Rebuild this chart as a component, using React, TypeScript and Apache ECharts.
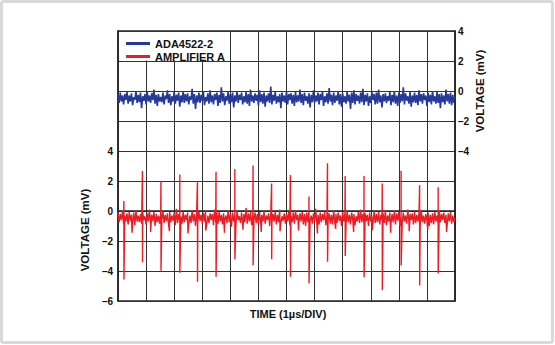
import React, { useEffect, useRef } from "react";
import * as echarts from "echarts";

// time axis: 12 divisions of 1 µs, noise sampled every 0.04 div
const timeDivisions = 12;
const sampleStep = 0.04;

const seriesNames = ["ADA4522-2", "AMPLIFIER A"];

// ADA4522-2 noise (mV, right axis)
const blueNoise = [
  -0.2,-0.8,-0.1,-0.7,-0.3,-0.9,-0.2,-0.6,-0.05,-0.85,
  -0.3,-0.7,-0.15,-0.95,-0.4,-0.6,0.0,-0.8,-0.25,-0.75,
  -0.1,-1.15,-0.35,-0.65,-0.2,-0.9,-0.05,-0.7,-0.3,-0.8,
  -0.15,-0.6,0.1,-0.85,-0.25,-1.0,-0.2,-0.7,-0.4,-0.75,
  -0.1,-0.9,-0.3,-0.55,0.05,-0.8,-0.2,-0.95,-0.35,-0.7,
  -0.05,-0.85,-0.25,-0.65,-0.1,-1.05,-0.3,-0.75,0.0,-0.8,
  -0.2,-0.7,-0.15,-0.9,-0.35,-0.6,0.15,-0.85,-0.2,-1.2,
  -0.3,-0.75,-0.1,-0.8,-0.25,-0.65,-0.05,-0.95,-0.4,-0.7,
  -0.15,-0.85,0.05,-0.75,-0.3,-0.9,-0.2,-0.6,-0.1,-1.0,
  -0.25,-0.8,0.25,-0.7,-0.15,-0.95,-0.35,-0.65,-0.05,-0.85,
  -0.2,-0.75,-0.1,-1.1,-0.3,-0.7,0.0,-0.8,-0.25,-0.6,
  -0.1,-0.9,-0.35,-0.75,-0.05,-0.85,-0.2,-1.0,0.1,-0.7,
  -0.3,-0.8,-0.15,-0.65,-0.25,-0.95,0.05,-0.75,-0.2,-0.85,
  -0.1,-1.05,-0.3,-0.7,-0.15,-0.8,0.3,-0.9,-0.25,-0.65,
  -0.05,-0.85,-0.35,-0.75,-0.2,-1.15,-0.1,-0.7,-0.3,-0.8,
  0.0,-0.9,-0.2,-0.6,-0.15,-0.85,-0.25,-1.0,-0.05,-0.75,
  -0.3,-0.7,0.1,-0.8,-0.2,-0.95,-0.1,-0.65,-0.35,-0.85,
  -0.15,-1.1,-0.25,-0.75,0.05,-0.8,-0.3,-0.7,-0.1,-0.9,
  -0.2,-0.6,-0.05,-1.0,-0.35,-0.75,-0.15,-0.85,0.2,-0.7,
  -0.25,-0.95,-0.1,-0.8,-0.3,-0.65,0.0,-0.9,-0.2,-1.05,
  -0.15,-0.75,-0.35,-0.85,-0.05,-0.7,-0.25,-1.2,-0.1,-0.8,
  0.05,-0.9,-0.2,-0.65,-0.3,-0.85,-0.1,-0.75,0.15,-0.95,
  -0.25,-0.7,-0.15,-1.0,-0.35,-0.8,-0.05,-0.6,-0.2,-0.9,
  -0.1,-0.85,0.1,-0.75,-0.3,-1.1,-0.2,-0.7,-0.15,-0.8,
  -0.35,-0.65,-0.05,-0.95,-0.25,-0.75,0.0,-0.85,-0.3,-1.0,
  -0.1,-0.8,-0.2,-0.7,0.25,-0.9,-0.15,-0.65,-0.35,-0.85,
  -0.05,-1.05,-0.3,-0.75,-0.1,-0.8,-0.25,-0.95,0.05,-0.7,
  -0.2,-0.85,-0.15,-0.6,-0.3,-1.0,-0.1,-0.75,-0.25,-0.9,
  0.0,-0.7,-0.35,-0.85,-0.05,-0.8,-0.2,-1.15,-0.15,-0.75,
  -0.3,-0.9,0.1,-0.7,-0.2,-0.85,-0.1,-0.95,-0.25,-0.8,
  -0.4,
];

// AMPLIFIER A base noise (mV, left axis)
const redNoise = [
  -0.1,-0.75,-0.2,-0.6,0.0,-0.85,-0.3,-0.7,-0.15,-0.9,
  -0.05,-0.65,-0.25,-0.8,-0.1,-0.95,0.05,-0.7,-0.3,-0.75,
  -0.2,-0.85,-0.1,-0.6,-0.35,-0.9,-0.15,-0.7,0.1,-0.8,
  -0.25,-0.65,-0.05,-1.0,-0.2,-0.75,-0.3,-0.85,-0.1,-0.6,
  0.0,-0.8,-0.25,-0.7,-0.15,-0.9,-0.05,-0.75,-0.3,-0.65,
  -0.1,-0.95,0.15,-0.8,-0.2,-0.7,-0.35,-0.85,-0.05,-0.75,
  -0.25,-0.6,-0.1,-0.9,-0.3,-0.8,0.05,-0.7,-0.2,-1.0,
  -0.15,-0.75,-0.05,-0.65,-0.25,-0.85,-0.1,-0.7,0.0,-0.9,
  -0.3,-0.8,-0.15,-0.6,-0.2,-0.95,0.1,-0.75,-0.1,-0.85,
  -0.05,-0.7,-0.25,-0.9,-0.15,-0.65,-0.3,-0.8,0.05,-0.75,
  -0.2,-1.05,-0.1,-0.7,-0.25,-0.85,0.0,-0.6,-0.35,-0.8,
  -0.1,-0.9,-0.2,-0.75,0.2,-0.85,-0.15,-0.7,-0.05,-0.95,
  -0.3,-0.65,-0.1,-0.8,-0.2,-0.9,-0.05,-0.75,-0.25,-0.7,
  0.0,-0.85,-0.3,-0.6,-0.15,-1.0,-0.1,-0.8,-0.2,-0.7,
  -0.05,-0.9,-0.25,-0.75,0.1,-0.8,-0.35,-0.65,-0.15,-0.85,
  -0.2,-0.7,-0.05,-0.95,-0.3,-0.75,-0.1,-0.85,0.05,-0.6,
  -0.25,-0.8,-0.15,-0.7,-0.05,-0.9,-0.2,-1.0,-0.1,-0.75,
  0.0,-0.65,-0.3,-0.85,-0.15,-0.7,0.15,-0.8,-0.25,-0.9,
  -0.1,-0.75,-0.2,-0.6,-0.05,-0.95,-0.3,-0.7,-0.15,-0.85,
  -0.25,-0.9,0.05,-0.75,-0.2,-0.8,-0.1,-0.65,-0.3,-1.0,
  -0.05,-0.7,-0.15,-0.85,0.0,-0.75,-0.25,-0.9,-0.1,-0.6,
  -0.2,-0.95,-0.35,-0.7,-0.05,-0.8,0.1,-0.75,-0.2,-0.85,
  -0.15,-0.65,-0.25,-1.0,-0.1,-0.7,-0.3,-0.85,0.0,-0.8,
  -0.2,-0.75,-0.05,-0.9,-0.25,-0.6,-0.15,-0.8,0.05,-0.95,
  -0.3,-0.7,-0.1,-0.85,-0.2,-0.75,0.0,-0.9,-0.15,-0.65,
  -0.05,-1.0,-0.25,-0.8,-0.1,-0.7,-0.3,-0.85,0.1,-0.75,
  -0.2,-0.6,-0.15,-0.9,-0.05,-0.8,-0.25,-0.7,-0.1,-0.95,
  0.05,-0.75,-0.3,-0.85,-0.2,-0.65,-0.1,-1.0,-0.25,-0.8,
  -0.15,-0.9,-0.05,-0.7,-0.3,-0.85,0.0,-0.75,-0.2,-0.6,
  -0.1,-0.8,-0.25,-0.95,-0.15,-0.7,-0.05,-0.85,-0.3,-0.75,
  -0.45,
];

// AMPLIFIER A periodic spikes (time in µs, peak / trough in mV)
const spikeTimes = [0.21,0.87,1.53,2.2,2.83,3.49,4.16,4.81,5.47,6.14,6.8,7.46,8.09,8.76,9.41,10.08,10.74,11.4];
const spikeHigh = [0.67,2.67,1.96,2.44,2.0,2.62,2.8,3.04,1.84,2.4,0.96,3.18,2.33,2.33,1.84,2.69,1.71,1.58];
const spikeLow = [-4.56,-3.42,-3.98,-4.11,-4.71,-4.38,-3.22,-3.62,-3.22,-4.38,-4.82,-3.38,-3.0,-4.42,-5.27,-3.64,-4.96,-4.16];

// smaller dips following each spike
const dipTimes = [0.5,1.16,1.83,2.49,3.12,3.79,4.45,5.1,5.77,6.43,7.1,7.75,8.39,9.05,9.71,10.37,11.03,11.7];
const dipLow = [-1.45,-1.4,-1.35,-1.5,-1.3,-1.45,-1.25,-1.4,-1.35,-1.3,-1.5,-1.2,-1.4,-1.3,-1.45,-1.35,-1.25,-1.4];

// axis ticks
const leftAxisMin = -6;
const leftAxisMax = 12;
const rightAxisMin = -14;
const rightAxisMax = 4;
const voltStep = 2;
const leftLabelMax = 4;
const rightLabelMin = -4;

const fmt = (v: number) => (v < 0 ? "\u2013" + Math.abs(v) : String(v));

export default function App() {
  const ref = useRef<HTMLDivElement>(null);

  useEffect(() => {
    if (!ref.current) return;
    const chart = echarts.init(ref.current, null, { renderer: "svg" });

    const blueData = blueNoise.map((v, i) => [i * sampleStep, v]);
    const redPts: number[][] = redNoise.map((v, i) => [i * sampleStep, v]);
    spikeTimes.forEach((t, k) => {
      redPts.push([t, spikeHigh[k]]);
      redPts.push([t + 0.002, spikeLow[k]]);
    });
    dipTimes.forEach((t, k) => redPts.push([t, dipLow[k]]));
    redPts.sort((a, b) => a[0] - b[0]);

    const font = '"Liberation Sans", Arial, sans-serif';

    chart.setOption({
      animation: false,
      backgroundColor: "#ffffff",
      grid: {
        left: 118,
        right: 100,
        top: 31,
        bottom: 44,
        show: true,
        borderColor: "#262626",
        borderWidth: 1.5,
        containLabel: false,
      },
      legend: {
        data: seriesNames,
        orient: "vertical",
        left: 121,
        top: 33,
        itemWidth: 24,
        itemHeight: 3,
        itemGap: 2,
        icon: "rect",
        z: 10,
        textStyle: {
          fontFamily: font,
          fontWeight: "bold",
          fontSize: 11,
          lineHeight: 11,
          color: "#111",
        },
      },
      xAxis: {
        type: "value",
        min: 0,
        max: timeDivisions,
        interval: 1,
        axisLabel: { show: false },
        axisTick: { show: false },
        axisLine: { show: true, lineStyle: { color: "#262626", width: 1.5 } },
        splitLine: { show: true, lineStyle: { color: "#333", width: 1 } },
      },
      yAxis: [
        {
          type: "value",
          position: "left",
          min: leftAxisMin,
          max: leftAxisMax,
          interval: voltStep,
          axisTick: { show: false },
          axisLine: { show: true, lineStyle: { color: "#262626", width: 1.5 } },
          splitLine: { show: true, lineStyle: { color: "#333", width: 1 } },
          axisLabel: {
            margin: 5,
            color: "#111",
            fontFamily: font,
            fontWeight: "bold",
            fontSize: 10,
            formatter: (v: number) => (v <= leftLabelMax ? fmt(v) : ""),
          },
        },
        {
          type: "value",
          position: "right",
          min: rightAxisMin,
          max: rightAxisMax,
          interval: voltStep,
          axisTick: { show: false },
          axisLine: { show: true, lineStyle: { color: "#262626", width: 1.5 } },
          splitLine: { show: false },
          axisLabel: {
            margin: 3,
            color: "#111",
            fontFamily: font,
            fontWeight: "bold",
            fontSize: 10,
            formatter: (v: number) => (v >= rightLabelMin ? fmt(v) : ""),
          },
        },
      ],
      graphic: [
        {
          type: "rect",
          z: -10,
          silent: true,
          shape: { x: 1.5, y: 1.5, width: 551, height: 341, r: 2 },
          style: { fill: "#fff", stroke: "#d9d9d9", lineWidth: 3 },
        },
        {
          type: "rect",
          z: 5,
          silent: true,
          shape: { x: 119, y: 32, width: 110.5, height: 28.5 },
          style: { fill: "#fff" },
        },
        {
          type: "text",
          x: 85,
          y: 230,
          rotation: Math.PI / 2,
          style: {
            text: "VOLTAGE (mV)",
            font: 'bold 11.5px "Liberation Sans", Arial, sans-serif',
            fill: "#111",
            align: "center",
            verticalAlign: "middle",
          },
        },
        {
          type: "text",
          x: 480,
          y: 91,
          rotation: Math.PI / 2,
          style: {
            text: "VOLTAGE (mV)",
            font: 'bold 11.5px "Liberation Sans", Arial, sans-serif',
            fill: "#111",
            align: "center",
            verticalAlign: "middle",
          },
        },
        {
          type: "text",
          x: 288,
          y: 314,
          style: {
            text: "TIME (1\u00b5s/DIV)",
            font: 'bold 11px "Liberation Sans", Arial, sans-serif',
            fill: "#111",
            align: "center",
            verticalAlign: "middle",
          },
        },
      ],
      series: [
        {
          name: seriesNames[0],
          type: "line",
          yAxisIndex: 1,
          data: blueData,
          showSymbol: false,
          symbol: "none",
          color: "#25399a",
          lineStyle: { color: "#25399a", width: 1.6 },
          z: 3,
        },
        {
          name: seriesNames[1],
          type: "line",
          yAxisIndex: 0,
          data: redPts,
          showSymbol: false,
          symbol: "none",
          color: "#ec1c24",
          lineStyle: { color: "#ec1c24", width: 1.4 },
          z: 3,
        },
      ],
    });

    return () => chart.dispose();
  }, []);

  return (
    <div
      ref={ref}
      style={{ position: "absolute", left: 0, top: 0, width: 555, height: 345 }}
    />
  );
}
